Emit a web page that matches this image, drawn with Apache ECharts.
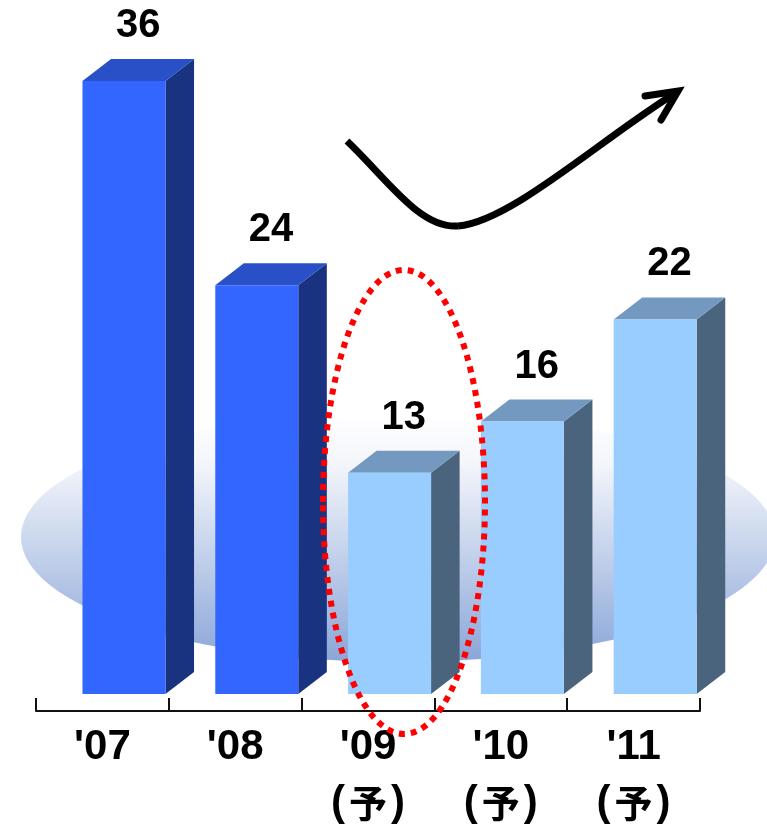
<!DOCTYPE html>
<html>
<head>
<meta charset="utf-8">
<script src="https://cdn.jsdelivr.net/npm/echarts@6/dist/echarts.min.js"></script>
<style>
  html, body { margin: 0; padding: 0; background: #ffffff; }
  #chart { width: 767px; height: 827px; }
</style>
</head>
<body>
<div id="chart"></div>
<script>
// Yearly figures; the last three years are forecasts (予)
const categories = ["'07", "'08", "'09", "'10", "'11"];
const values = [36, 24, 13, 16, 22];
const isForecast = [false, false, true, true, true];
const forecastMark = '予';

// Face colours of the 3D columns: [front, top, side]
const actualFaces = ['#3366FF', '#2A50C8', '#1A3380'];
const forecastFaces = ['#99CCFF', '#7399C0', '#4B647E'];

const chart = echarts.init(document.getElementById('chart'), null, { renderer: 'canvas' });

function renderColumn(params, api) {
  const idx = api.value(0);
  const val = api.value(1);
  const base = api.coord([idx, 0]);
  const top = api.coord([idx, val]);
  const band = api.size([1, 0])[0];
  const x0 = base[0] - band * 0.15;
  const w = band * 0.625;
  const dx = band * 0.215;
  const dy = 22;
  const x1 = x0 + w;
  const yb = base[1];
  const yt = top[1];
  const faces = isForecast[idx] ? forecastFaces : actualFaces;
  return {
    type: 'group',
    children: [
      {
        type: 'polygon',
        shape: { points: [[x1, yt], [x1 + dx, yt - dy], [x1 + dx, yb - dy], [x1, yb]] },
        style: { fill: faces[2] }
      },
      {
        type: 'polygon',
        shape: { points: [[x0, yt], [x0 + dx, yt - dy], [x1 + dx, yt - dy], [x1, yt]] },
        style: { fill: faces[1] }
      },
      {
        type: 'rect',
        shape: { x: x0, y: yt, width: w, height: yb - yt },
        style: { fill: faces[0] }
      },
      {
        type: 'text',
        x: x0 + w / 2 + dx / 2,
        y: yt - 55,
        style: {
          text: String(val),
          fill: '#000000',
          font: 'bold 40px "Liberation Sans", Arial, sans-serif',
          align: 'center',
          verticalAlign: 'middle'
        }
      }
    ]
  };
}

const labelFont = '"Liberation Sans", Arial, sans-serif';

const option = {
  animation: false,
  backgroundColor: '#ffffff',
  grid: { left: 36, right: 67, top: 81, bottom: 133 },
  xAxis: {
    type: 'category',
    data: categories,
    offset: 17,
    axisLine: { onZero: false, lineStyle: { color: '#111111', width: 2 } },
    axisTick: { show: true, inside: true, length: 13, lineStyle: { color: '#111111', width: 2 } },
    axisLabel: {
      interval: 0,
      margin: 9,
      formatter: function (val, i) {
        return isForecast[i]
          ? '{a|' + val + '}\n{p|(}{k|' + forecastMark + '}{p|)}'
          : '{a|' + val + '}';
      },
      rich: {
        a: { fontFamily: labelFont, fontWeight: 'bold', fontSize: 42, lineHeight: 54, color: '#000000' },
        p: { fontFamily: labelFont, fontWeight: 'bold', fontSize: 42, lineHeight: 58, color: '#000000' },
        k: { fontFamily: '"Noto Sans CJK JP", sans-serif', fontWeight: 'bold', fontSize: 38, lineHeight: 58, color: '#000000', padding: [0, 4, 0, 4] }
      }
    }
  },
  yAxis: { type: 'value', min: 0, max: 36, show: false, splitLine: { show: false } },
  graphic: [
    {
      type: 'ellipse',
      z: -10,
      shape: { cx: 398, cy: 537, rx: 377, ry: 125 },
      style: {
        fill: new echarts.graphic.LinearGradient(0, 0, 0, 1, [
          { offset: 0, color: '#FFFFFF' },
          { offset: 0.2, color: '#F4F6FB' },
          { offset: 1, color: '#8AA6D8' }
        ])
      }
    },
    {
      type: 'ellipse',
      z: 100,
      shape: { cx: 404, cy: 502, rx: 81, ry: 232 },
      style: { fill: null, stroke: '#FF0000', lineWidth: 6, lineDash: [6, 6] }
    },
    // Trend arrow: a dip followed by a rise
    {
      type: 'bezierCurve',
      z: 100,
      shape: { x1: 347, y1: 141, cpx1: 388, cpy1: 180, cpx2: 420, cpy2: 229, x2: 458, y2: 226 },
      style: { fill: null, stroke: '#000000', lineWidth: 7 }
    },
    {
      type: 'bezierCurve',
      z: 100,
      shape: { x1: 458, y1: 226, cpx1: 510, cpy1: 222, cpx2: 600, cpy2: 140, x2: 674, y2: 94 },
      style: { fill: null, stroke: '#000000', lineWidth: 7 }
    },
    {
      type: 'polyline',
      z: 100,
      shape: { points: [[645, 96], [678, 91], [661, 120]] },
      style: { fill: null, stroke: '#000000', lineWidth: 7, lineCap: 'round', lineJoin: 'miter' }
    }
  ],
  series: [
    {
      type: 'custom',
      renderItem: renderColumn,
      encode: { x: 0, y: 1 },
      data: values.map(function (v, i) { return [i, v]; })
    }
  ]
};

chart.setOption(option);
</script>
</body>
</html>
